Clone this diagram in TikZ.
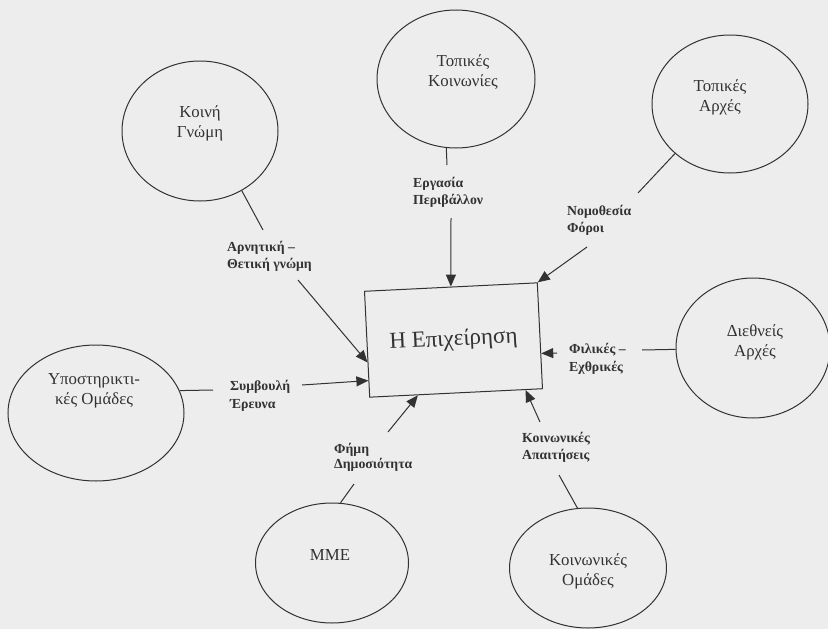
\documentclass[tikz,border=0pt]{standalone}
\usepackage{fontspec}
\setmainfont{Liberation Serif}
\usetikzlibrary{arrows.meta,shapes.geometric,calc}
\definecolor{paper}{RGB}{237,237,237}
\definecolor{ink}{RGB}{50,50,50}
\begin{document}
\begin{tikzpicture}[x=1pt,y=-1pt,
  actor/.style={ellipse,draw=ink,line width=1pt,inner sep=0pt},
  actortext/.style={font=\fontsize{16.8}{20}\selectfont,text=ink,align=center,inner sep=0pt},
  flowlabel/.style={font=\fontsize{13.8}{17.5}\selectfont\bfseries,text=ink,align=left,anchor=west,inner sep=0pt},
  link/.style={draw=ink,line width=1pt},
  flow/.style={draw=ink,line width=1pt,-{Triangle[length=12pt,width=10pt]}},
]
\fill[paper] (0,0) rectangle (828,629);
\useasboundingbox (0,0) rectangle (828,629);

% central box
\node[draw=ink,line width=1pt,minimum width=173pt,minimum height=106pt,rotate=2.8,inner sep=0pt,
      font=\fontsize{23}{26}\selectfont,text=ink] (box) at (453.5,340) {Η Επιχείρηση};

% actors
\node[actor,minimum width=156pt,minimum height=140pt] (kg) at (200,131) {};
\node[actortext] (kgt) at (200,123) {Κοινή\\Γνώμη};
\node[actor,minimum width=158pt,minimum height=138pt] (tk) at (456,79) {};
\node[actortext] (tkt) at (463,72) {Τοπικές\\Κοινωνίες};
\node[actor,minimum width=156pt,minimum height=138pt] (ta) at (730,104) {};
\node[actortext] (tat) at (720,97) {Τοπικές\\Αρχές};
\node[actor,minimum width=154pt,minimum height=140pt] (da) at (753,348) {};
\node[actortext] (dat) at (755,342) {Διεθνείς\\Αρχές};
\node[actor,minimum width=157pt,minimum height=120pt] (ko) at (588,568) {};
\node[actortext] (kot) at (588,571) {Κοινωνικές\\Ομάδες};
\node[actor,minimum width=153pt,minimum height=120pt] (mm) at (332,563) {};
\node[actortext] (mmt) at (330,555) {ΜΜΕ};
\node[actor,minimum width=176pt,minimum height=136pt] (yo) at (96,413) {};
\node[actortext] (yot) at (94,391) {Υποστηρικτι-\\κές Ομάδες};

% labels
\node[flowlabel] (la) at (227,256.5) {Αρνητική –\\Θετική γνώμη};
\node[flowlabel] (lb) at (413,192.5) {Εργασία\\Περιβάλλον};
\node[flowlabel] (lc) at (567,220.5) {Νομοθεσία\\Φόροι};
\node[flowlabel] (ld) at (569,359) {Φιλικές –\\Εχθρικές};
\node[flowlabel] (le) at (522,447.5) {Κοινωνικές\\Απαιτήσεις};
\node[flowlabel,font=\fontsize{13.8}{15.5}\selectfont\bfseries] (lf) at (334,457.5) {Φήμη\\Δημοσιότητα};
\node[flowlabel] (lg) at (230,396) {Συμβουλή\\Έρευνα};

% free ends
\coordinate (a1) at (263,230); \coordinate (a2) at (298,280);
\coordinate (b1) at (447,165); \coordinate (b2) at (451,218);
\coordinate (c1) at (638,193); \coordinate (c2) at (587,247);
\coordinate (d1) at (642,350); \coordinate (d2) at (557,353);
\coordinate (e1) at (559,475); \coordinate (e2) at (540,422);
\coordinate (f1) at (354,484); \coordinate (f2) at (388,432);
\coordinate (g1) at (213,390); \coordinate (g2) at (302,385);

% connectors
\draw[link] (kg.305) -- (a1);
\draw[flow] (a2) -- ($(box.west)!0.34!(box.south west)$);
\draw[link] (tk.262.6) -- (b1);
\draw[flow] (b2) -- (box.north);
\draw[link] (ta.222.5) -- (c1);
\draw[flow] (c2) -- (box.north east);
\draw[link] (da.181) -- (d1);
\draw[flow] (d2) -- ($(box.east)!0.33!(box.south east)$);
\draw[link] (ko.100) -- (e1);
\draw[flow] (e2) -- ($(box.south west)!0.9!(box.south east)$);
\draw[link] (mm.82.5) -- (f1);
\draw[flow] (f2) -- ($(box.south west)!0.28!(box.south east)$);
\draw[link] (yo.15) -- (g1);
\draw[flow] (g2) -- ($(box.west)!0.68!(box.south west)$);
\end{tikzpicture}
\end{document}
